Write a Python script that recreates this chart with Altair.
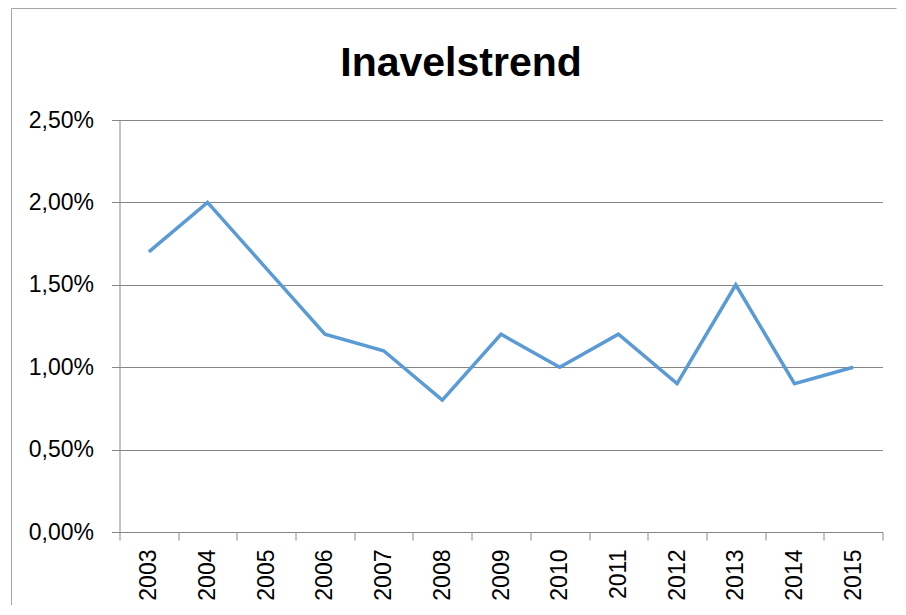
import altair as alt
import pandas as pd

years = ["2003", "2004", "2005", "2006", "2007", "2008", "2009",
         "2010", "2011", "2012", "2013", "2014", "2015"]
values = [0.017, 0.020, 0.016, 0.012, 0.011, 0.008, 0.012,
          0.010, 0.012, 0.009, 0.015, 0.009, 0.010]
y_ticks = [0.0, 0.005, 0.010, 0.015, 0.020, 0.025]
title_text = "Inavelstrend"

df = pd.DataFrame({"year": years, "value": values})
dummy = pd.DataFrame({"d": [0]})

W, H = 763, 412
FONT = "Liberation Sans"
GRID = "#868686"
BORDER = "#A6A6A6"

line = alt.Chart(df).mark_line(color="#5B9BD5", strokeWidth=3.5).encode(
    x=alt.X(
        "year:O",
        bandPosition=0.5,
        scale=alt.Scale(type="band", paddingInner=0, paddingOuter=0),
        axis=alt.Axis(
            title=None,
            tickBand="extent",
            labelAngle=270,
            labelFont=FONT,
            labelFontSize=23,
            labelColor="#000000",
            labelPadding=9,
            tickSize=8,
            tickColor=GRID,
            domainColor=GRID,
            grid=False,
        ),
    ),
    y=alt.Y(
        "value:Q",
        scale=alt.Scale(domain=[0, 0.025], nice=False, zero=True),
        axis=alt.Axis(
            title=None,
            values=y_ticks,
            labelExpr="replace(format(datum.value, '.2%'), '.', ',')",
            labelFont=FONT,
            labelFontSize=23,
            labelColor="#000000",
            labelPadding=18,
            tickSize=8,
            tickColor=GRID,
            domainColor=GRID,
            grid=True,
            gridColor=GRID,
            gridOpacity=1,
        ),
    ),
)

title = alt.Chart(dummy).mark_text(
    text=title_text, font=FONT, fontSize=41, fontWeight="bold",
    align="center", baseline="alphabetic", color="#000000"
).encode(x=alt.value(341.5), y=alt.value(-44))

border_left = alt.Chart(dummy).mark_rule(color=BORDER, strokeWidth=1, clip=False).encode(
    x=alt.value(-108), y=alt.value(-111.5), y2=alt.value(485)
)
border_top = alt.Chart(dummy).mark_rule(color=BORDER, strokeWidth=1, clip=False).encode(
    x=alt.value(-108), x2=alt.value(777), y=alt.value(-111.5)
)

chart = alt.layer(border_left, border_top, title, line).properties(
    width=W, height=H,
    padding={"left": 2.5, "top": 0, "right": 0, "bottom": 0},
    background="#FFFFFF",
).configure_view(stroke=None)

chart.save("out.html", embed_options={"renderer": "svg", "actions": False})
